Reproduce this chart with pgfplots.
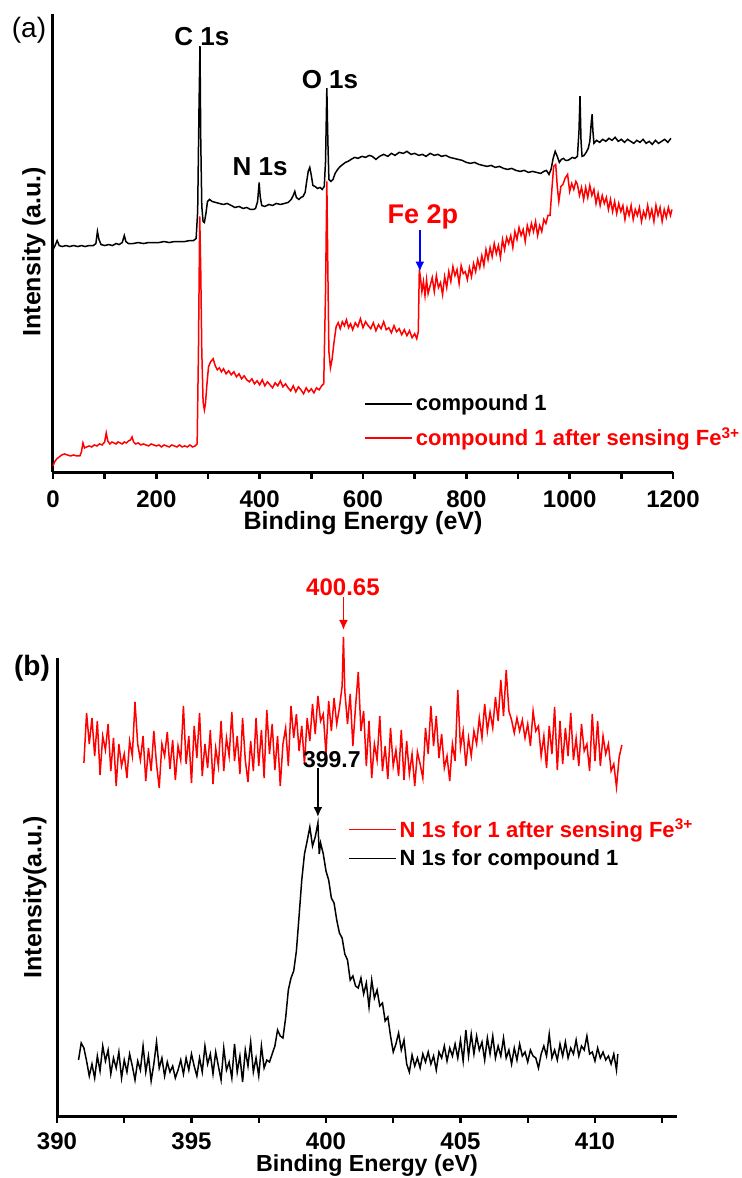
\documentclass[border=0pt]{standalone}
\usepackage{fontspec}
\setmainfont{Liberation Sans}
\usepackage{pgfplots}
\pgfplotsset{compat=1.18}
\usetikzlibrary{arrows.meta}
\pgfplotsset{
  myaxis/.style={
    scale only axis, clip=false,
    axis x line*=bottom, axis y line*=left,
    axis line style={-, line width=1.5pt},
    ytick=\empty, tick align=outside,
    major tick length=3.5pt, minor tick length=3.5pt,
    every tick/.style={line width=1.2pt, black},
    /pgf/number format/assume math mode=true,
    /pgf/number format/1000 sep={},
    ticklabel style={font=\bfseries\fontsize{12}{12}\selectfont, inner sep=0pt},
    xticklabel style={yshift=-5.5pt},
    legend cell align=left,
    legend image code/.code={\draw[##1] (0pt,0pt) -- (23.5pt,0pt);},
  }
}
\begin{document}
\begin{tikzpicture}
\useasboundingbox (0,0) rectangle (371pt,-589pt);
% ---------------- panel (a)
\begin{axis}[myaxis,
  at={(26.5pt,-236pt)}, anchor=south west,
  width=310pt, height=228.5pt,
  xmin=0, xmax=1200, ymin=0, ymax=457,
  xtick={0,200,...,1200}, minor xtick={100,300,...,1100},
  xlabel={Binding Energy (eV)},
  xlabel style={font=\bfseries\fontsize{12.5}{12.5}\selectfont, inner sep=0pt, at={(axis description cs:0.5,0)}, anchor=center, yshift=-25.75pt},
  ylabel={Intensity (a.u.)},
  ylabel style={font=\bfseries\fontsize{12.5}{12.5}\selectfont, at={(axis description cs:-0.0306,0.481)}, anchor=center},
  reverse legend,
  legend style={draw=none, fill=none, at={(axis description cs:0.5016,0.177)}, anchor=north west,
    font=\bfseries\fontsize{11}{11}\selectfont, row sep=4pt, inner sep=0pt,
    nodes={inner sep=1.5pt}},
]
\addplot[red, line width=0.75pt] coordinates {
(0,6)(3,10)(7,13)(12,15)(17,17)(22,18)(28,17)(34,16)(40,17)(46,16)(52,16)(55,20)(58,29)(61,24)(65,25)(70,26)(75,25)(80,27)(85,26)(90,28)(95,27)(100,30)(103,39)(106,31)(110,28)(114,30)(118,29)(122,28)(126,30)(130,29)(134,28)(138,30)(142,29)(146,31)(150,32)(153,35)(156,30)(160,28)(165,29)(170,27)(175,28)(180,27)(185,26)(190,28)(195,27)(200,26)(205,27)(210,25)(215,27)(220,26)(225,25)(230,27)(235,26)(240,25)(245,27)(250,25)(255,26)(260,25)(265,27)(270,25)(275,26)(279,28)
(281.5,120)(284,255)(286,200)(288,120)(290.5,70)(293,62)(295,68)(298,88)(301,105)(305,110)(310,113)(314,106)(318,102)(322,104)(326,100)(330,103)(335,98)(340,101)(345,97)(350,100)(355,95)(360,98)(365,93)(370,96)(375,92)(380,90)(385,93)(390,88)(395,91)(400,87)(405,92)(410,86)(415,90)(420,87)(425,84)(430,89)(435,86)(440,91)(445,85)(450,88)(455,84)(460,81)(465,86)(470,80)(475,85)(480,82)(485,78)(490,84)(495,80)(500,83)(505,79)(510,84)(515,82)(520,86)(524,88)
(527.5,180)(530,290)(532,200)(534,120)(537,104)(540,112)(544,130)(548,145)(552,149)(556,143)(560,150)(564,146)(568,152)(572,144)(576,148)(580,142)(585,149)(590,145)(595,153)(600,144)(605,150)(610,146)(615,143)(620,149)(625,141)(630,147)(635,143)(640,150)(645,142)(650,144)(655,139)(660,146)(665,140)(670,143)(675,137)(680,142)(685,136)(690,141)(695,134)(700,138)(704,133)(707,140)
(709,202)(711,195)(714,180)(717,190)(720,176)(723,192)(726,178)(730,186)(734,194)(738,180)(742,196)(746,184)(750,189)(754,177)(758,195)(762,184)(766,200)(770,190)(774,205)(778,196)(782,202)(786,188)(790,206)(794,198)(798,200)(802,192)(806,204)(810,195)(814,208)(818,200)(822,212)(826,204)(830,216)(834,206)(838,222)(842,212)(846,224)(850,215)(854,228)(858,218)(862,226)(866,214)(870,232)(874,222)(878,234)(882,228)(886,236)(890,224)(894,240)(898,232)(902,244)(906,236)(910,242)(914,230)(918,246)(922,238)(926,248)(930,240)(934,250)(938,236)(942,246)(946,240)(950,252)(954,248)(958,256)(962,256)
(966,285)(969,305)(973,307)(976,285)(979,270)(983,285)(987,287)(991,293)(996,297)(1000,280)(1004,288)(1008,282)(1012,290)(1015,287)(1019,276)(1023,284)(1027,272)(1031,284)(1035,274)(1039,286)(1043,276)(1047,282)(1051,268)(1055,278)(1059,266)(1063,276)(1067,268)(1071,274)(1075,262)(1079,272)(1083,260)(1087,270)(1091,258)(1095,268)(1099,260)(1103,266)(1107,252)(1111,264)(1115,256)(1119,266)(1123,252)(1127,262)(1131,256)(1135,264)(1139,250)(1143,260)(1147,254)(1151,266)(1155,254)(1159,262)(1163,250)(1167,266)(1171,256)(1175,264)(1179,250)(1183,262)(1187,254)(1191,264)(1195,256)(1198,262)
};
\addlegendentry{\textcolor{red}{compound 1 after sensing Fe\textsuperscript{3+}}}
\addplot[black, line width=0.75pt] coordinates {
(0,222)(4,226)(8,231)(12,226)(18,225)(25,226)(32,225)(40,226)(48,225)(55,226)(62,225)(70,226)(78,226)(83,228)(86,240)(89,232)(93,227)(100,226)(108,227)(115,226)(122,228)(128,227)(134,229)(138,236)(141,230)(146,228)(155,228)(165,229)(175,228)(185,229)(195,229)(205,229)(215,230)(225,229)(235,230)(245,230)(255,230)(265,231)(272,231)(277,233)
(280,260)(282.5,360)(284.5,425)(286,330)(288,265)(290.5,250)(293,249)(296,258)(299,270)(303,272)(308,270)(315,269)(322,268)(330,267)(337,268)(345,266)(352,264)(360,265)(368,263)(375,264)(382,262)(388,262)(392,263)(396,270)(399,289)(401,275)(404,266)(410,265)(418,267)(425,266)(432,268)(440,267)(448,268)(455,269)(461,272)(465,276)(468,280)(471,274)(476,272)(480,274)(484,275)(488,279)(491,290)(494,300)(497,304)(500,296)(503,286)(507,285)(512,283)(517,284)(521,282)(525,285)
(527.5,310)(530,383)(532,330)(534,292)(538,290)(542,292)(546,298)(551,302)(556,305)(561,307)(566,309)(571,310)(577,312)(584,314)(590,313)(598,315)(605,314)(612,316)(618,315)(625,312)(632,315)(640,317)(648,315)(655,318)(662,316)(670,319)(678,318)(685,320)(693,317)(700,318)(708,316)(715,317)(722,315)(730,318)(738,316)(745,317)(752,315)(760,316)(768,314)(776,313)(784,312)(792,311)(800,309)(808,308)(816,309)(824,307)(832,306)(840,305)(848,306)(856,304)(864,305)(872,303)(880,302)(888,303)(896,301)(904,300)(912,301)(920,299)(928,300)(936,299)(944,298)(950,300)(955,301)(960,297)
(964,302)(968,313)(972,320)(976,315)(980,309)(984,312)(988,313)(992,311)(996,311)(1000,312)(1005,314)(1010,313)(1015,315)(1018,340)(1020,375)(1022,330)(1024,315)(1028,316)(1032,319)(1036,323)(1039,330)(1042,350)(1043.5,357)(1045,340)(1047,328)(1052,331)(1058,329)(1064,332)(1070,330)(1076,333)(1082,331)(1088,334)(1094,330)(1100,332)(1106,329)(1112,332)(1118,330)(1124,328)(1130,331)(1136,329)(1142,332)(1148,328)(1154,330)(1160,327)(1166,331)(1172,328)(1178,330)(1184,332)(1190,329)(1196,333)
};
\addlegendentry{compound 1}
\node[font=\bfseries\fontsize{13}{13}\selectfont] at (axis cs:288,435) {C 1s};
\node[font=\bfseries\fontsize{13}{13}\selectfont] at (axis cs:401,305) {N 1s};
\node[font=\bfseries\fontsize{13}{13}\selectfont] at (axis cs:536,392) {O 1s};
\node[font=\bfseries\fontsize{13.5}{13.5}\selectfont, text=red] at (axis cs:716,255) {Fe 2p};
\draw[blue, line width=0.9pt, -{Latex[length=5pt,width=4.5pt]}] (axis cs:710,242) -- (axis cs:710,200);
\end{axis}
\node[font=\fontsize{14}{14}\selectfont] at (14.5pt,-15pt) {(a)};
% ---------------- panel (b)
\begin{axis}[myaxis,
  at={(28.5pt,-558pt)}, anchor=south west,
  width=310pt, height=229pt,
  xmin=390, xmax=413.05, ymin=0, ymax=458,
  xtick={390,395,...,410}, minor xtick={392.5,397.5,...,412.5},
  xticklabel style={yshift=1pt},
  xlabel={Binding Energy (eV)},
  xlabel style={font=\bfseries\fontsize{11.6}{11.6}\selectfont, inner sep=0pt, at={(axis description cs:0.5,0)}, anchor=center, yshift=-25pt},
  ylabel={Intensity(a.u.)},
  ylabel style={font=\bfseries\fontsize{12.5}{12.5}\selectfont, at={(axis description cs:-0.0355,0.478)}, anchor=center},
  legend style={draw=none, fill=none, at={(axis description cs:0.469,0.657)}, anchor=north west,
    font=\bfseries\fontsize{11}{11}\selectfont, row sep=1.5pt, inner sep=0pt,
    nodes={inner sep=1.5pt}},
]
\addplot[red, line width=0.75pt] coordinates {
(391.0,353)(391.1,403)(391.2,372)(391.3,398)(391.4,360)(391.5,395)(391.6,341)(391.7,380)(391.8,366)(391.9,392)(392.0,345)(392.1,378)(392.2,330)(392.3,372)(392.4,350)(392.5,362)(392.6,338)(392.7,375)(392.8,360)(392.9,414)(393.0,372)(393.1,356)(393.2,380)(393.3,335)(393.4,368)(393.5,345)(393.6,385)(393.7,352)(393.8,328)(393.9,372)(394.0,360)(394.1,384)(394.2,347)(394.3,376)(394.4,336)(394.5,370)(394.6,356)(394.7,410)(394.8,352)(394.9,380)(395.0,333)(395.1,390)(395.2,358)(395.3,403)(395.4,340)(395.5,372)(395.6,348)(395.7,386)(395.8,332)(395.9,368)(396.0,350)(396.1,395)(396.2,345)(396.3,378)(396.4,360)(396.5,404)(396.6,355)(396.7,380)(396.8,342)(396.9,398)(397.0,356)(397.1,334)(397.2,375)(397.3,345)(397.4,398)(397.5,350)(397.6,386)(397.7,338)(397.8,406)(397.9,362)(398.0,392)(398.1,346)(398.2,380)(398.3,330)(398.4,372)(398.5,388)(398.6,350)(398.7,410)(398.8,378)(398.9,402)(399.0,365)(399.1,390)(399.2,352)(399.3,398)(399.4,375)(399.5,412)(399.6,382)(399.7,420)(399.8,395)(399.9,402)(400.0,362)(400.1,415)(400.2,385)(400.3,418)(400.4,392)(400.5,408)(400.6,430)(400.65,479)(400.7,425)(400.8,392)(400.9,422)(401.0,370)(401.1,410)(401.2,444)(401.3,385)(401.4,405)(401.5,350)(401.6,395)(401.7,338)(401.8,372)(401.9,356)(402.0,400)(402.1,345)(402.2,370)(402.3,337)(402.4,388)(402.5,350)(402.6,366)(402.7,340)(402.8,386)(402.9,336)(403.0,375)(403.1,342)(403.2,362)(403.3,330)(403.4,364)(403.5,352)(403.6,338)(403.7,388)(403.8,362)(403.9,410)(404.0,370)(404.1,400)(404.2,358)(404.3,382)(404.4,348)(404.5,360)(404.6,335)(404.7,372)(404.8,355)(404.9,426)(405.0,368)(405.1,385)(405.2,350)(405.3,378)(405.4,360)(405.5,385)(405.6,372)(405.7,398)(405.8,378)(405.9,412)(406.0,385)(406.1,404)(406.2,388)(406.3,419)(406.4,395)(406.5,436)(406.6,400)(406.7,446)(406.8,405)(406.9,396)(407.0,383)(407.1,398)(407.2,385)(407.3,396)(407.4,378)(407.5,392)(407.6,370)(407.7,405)(407.8,385)(407.9,390)(408.0,360)(408.1,380)(408.2,348)(408.3,390)(408.4,362)(408.5,409)(408.6,346)(408.7,395)(408.8,352)(408.9,388)(409.0,360)(409.1,403)(409.2,356)(409.3,378)(409.4,350)(409.5,392)(409.6,365)(409.7,372)(409.8,345)(409.9,402)(410.0,355)(410.1,395)(410.2,350)(410.3,380)(410.4,362)(410.5,372)(410.6,345)(410.7,352)(410.8,329)(410.9,359)(411.0,371)
};
\addlegendentry{\textcolor{red}{N 1s for 1 after sensing Fe\textsuperscript{3+}}}
\addplot[black, line width=0.75pt] coordinates {
(390.8,56)(390.9,73)(391.0,68)(391.1,55)(391.2,40)(391.3,52)(391.4,38)(391.5,60)(391.6,45)(391.7,70)(391.8,55)(391.9,66)(392.0,42)(392.1,58)(392.2,48)(392.3,64)(392.4,38)(392.5,56)(392.6,44)(392.7,62)(392.8,50)(392.9,36)(393.0,55)(393.1,46)(393.2,70)(393.3,44)(393.4,60)(393.5,35)(393.6,52)(393.7,74)(393.8,48)(393.9,58)(394.0,40)(394.1,54)(394.2,44)(394.3,50)(394.4,38)(394.5,46)(394.6,56)(394.7,42)(394.8,58)(394.9,46)(395.0,62)(395.1,50)(395.2,40)(395.3,58)(395.4,44)(395.5,70)(395.6,52)(395.7,62)(395.8,42)(395.9,64)(396.0,50)(396.1,36)(396.2,68)(396.3,46)(396.4,54)(396.5,38)(396.6,72)(396.7,44)(396.8,60)(396.9,34)(397.0,66)(397.1,50)(397.2,74)(397.3,44)(397.4,58)(397.5,40)(397.6,70)(397.7,48)(397.8,56)(397.9,54)(398.0,62)(398.1,70)(398.2,86)(398.3,80)(398.4,78)(398.5,98)(398.6,126)(398.7,138)(398.8,145)(398.9,165)(399.0,200)(399.1,236)(399.2,262)(399.3,275)(399.4,289)(399.5,270)(399.6,279)(399.7,293)(399.75,262)(399.8,273)(399.9,262)(400.0,245)(400.1,236)(400.2,218)(400.3,213)(400.4,196)(400.5,183)(400.6,178)(400.7,162)(400.8,156)(400.9,136)(401.0,140)(401.1,130)(401.2,128)(401.3,138)(401.4,122)(401.5,133)(401.6,109)(401.7,136)(401.8,118)(401.9,126)(402.0,110)(402.1,113)(402.2,95)(402.3,99)(402.4,80)(402.5,64)(402.6,72)(402.7,83)(402.8,66)(402.9,76)(403.0,52)(403.1,44)(403.2,61)(403.3,50)(403.4,58)(403.5,48)(403.6,62)(403.7,54)(403.8,64)(403.9,52)(404.0,60)(404.1,46)(404.2,64)(404.3,58)(404.4,70)(404.5,55)(404.6,68)(404.7,60)(404.8,72)(404.9,58)(405.0,76)(405.1,55)(405.2,86)(405.3,60)(405.4,82)(405.5,62)(405.6,80)(405.7,66)(405.8,74)(405.9,56)(406.0,78)(406.1,62)(406.2,80)(406.3,58)(406.4,70)(406.5,60)(406.6,78)(406.7,58)(406.8,66)(406.9,52)(407.0,68)(407.1,56)(407.2,72)(407.3,60)(407.4,64)(407.5,54)(407.6,66)(407.7,60)(407.8,58)(407.9,48)(408.0,62)(408.1,70)(408.2,60)(408.3,82)(408.4,58)(408.5,66)(408.6,56)(408.7,72)(408.8,60)(408.9,74)(409.0,58)(409.1,68)(409.2,62)(409.3,76)(409.4,60)(409.5,70)(409.6,66)(409.7,80)(409.8,62)(409.9,64)(410.0,55)(410.1,68)(410.2,58)(410.3,64)(410.4,56)(410.5,60)(410.6,52)(410.7,62)(410.8,46)(410.85,62)
};
\addlegendentry{N 1s for compound 1}
\node[font=\bfseries\fontsize{12}{12}\selectfont, text=red] at (axis cs:400.63,529) {400.65};
\draw[red, line width=0.9pt, -{Latex[length=5pt,width=4.5pt]}] (axis cs:400.65,519) -- (axis cs:400.65,486);
\node[font=\bfseries\fontsize{11.5}{11.5}\selectfont] at (axis cs:400.22,356) {399.7};
\draw[black, line width=0.9pt, -{Latex[length=5pt,width=4.5pt]}] (axis cs:399.7,348) -- (axis cs:399.7,299);
\end{axis}
\node[font=\bfseries\fontsize{14}{14}\selectfont] at (16pt,-334pt) {(b)};
\end{tikzpicture}
\end{document}
